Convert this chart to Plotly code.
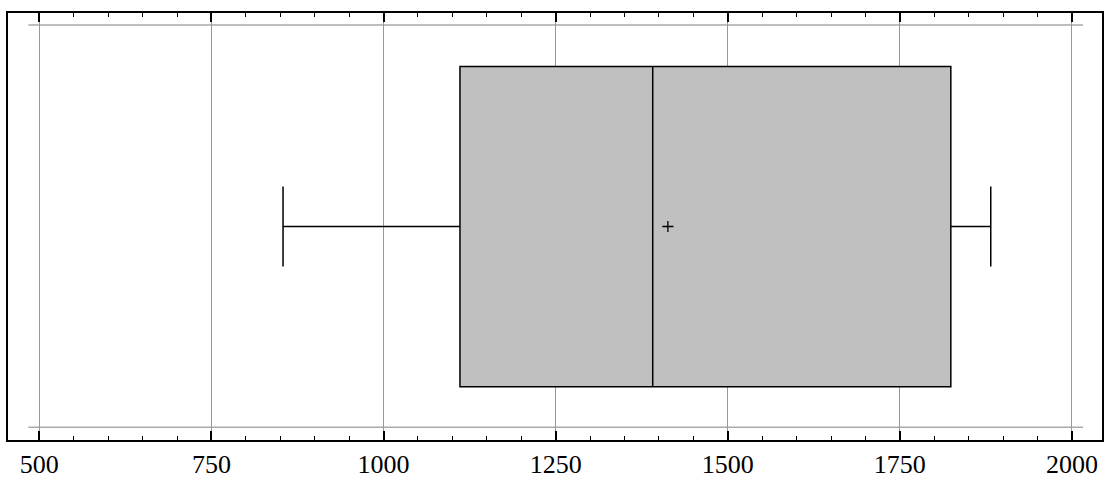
import plotly.graph_objects as go

# data
category = ["Series"]
lower_whisker = [854]
q1 = [1111]
median = [1391]
q3 = [1824]
upper_whisker = [1882]
mean = [1413]
tick_values = [500, 750, 1000, 1250, 1500, 1750, 2000]
tick_labels = ["500", "750", "1000", "1250", "1500", "1750", "2000"]

FONT = "Liberation Serif, Times New Roman, serif"

fig = go.Figure()
fig.add_trace(go.Box(
    y=[0], q1=q1, median=median, q3=q3,
    lowerfence=lower_whisker, upperfence=upper_whisker,
    orientation="h", width=0.75, whiskerwidth=0.25,
    fillcolor="#c0c0c0", line=dict(color="black", width=1.5),
    boxpoints=False, name=category[0], showlegend=False, hoverinfo="x",
))
fig.add_trace(go.Scatter(
    x=mean, y=[0], mode="markers",
    marker=dict(symbol="cross-thin", size=8, line=dict(color="black", width=1.3)),
    showlegend=False,
))

for yv in (0.472, -0.47):
    fig.add_shape(type="line", xref="x", yref="y", x0=484, x1=2016, y0=yv, y1=yv,
                  line=dict(color="#aaaaaa", width=1.5), layer="below")

fig.update_layout(
    width=1105, height=479,
    margin=dict(l=8, r=3, t=13, b=39, autoexpand=False),
    paper_bgcolor="white", plot_bgcolor="white",
    showlegend=False,
    font=dict(family=FONT, size=26, color="black"),
    xaxis=dict(
        range=[454.5, 2043.6], tickvals=tick_values, ticktext=tick_labels,
        ticks="inside", ticklen=9, tickwidth=1.5, tickcolor="black",
        showline=True, linecolor="black", linewidth=1.5, mirror="allticks",
        showgrid=True, gridcolor="#999999", gridwidth=1, zeroline=False,
        automargin=False,
        minor=dict(dtick=50, tick0=500, ticks="inside", ticklen=4, tickwidth=1.2,
                   tickcolor="black", showgrid=False),
        tickfont=dict(family=FONT, size=26, color="black"),
    ),
    yaxis=dict(
        range=[-0.5, 0.5], showticklabels=False, ticks="", showgrid=False,
        zeroline=False, showline=True, linecolor="black", linewidth=1.5, mirror=True,
        automargin=False,
    ),
)

fig.write_html(
    "out.html",
    config={"displayModeBar": False},
    post_script="document.body.style.margin='0';document.body.style.overflow='hidden';",
)
